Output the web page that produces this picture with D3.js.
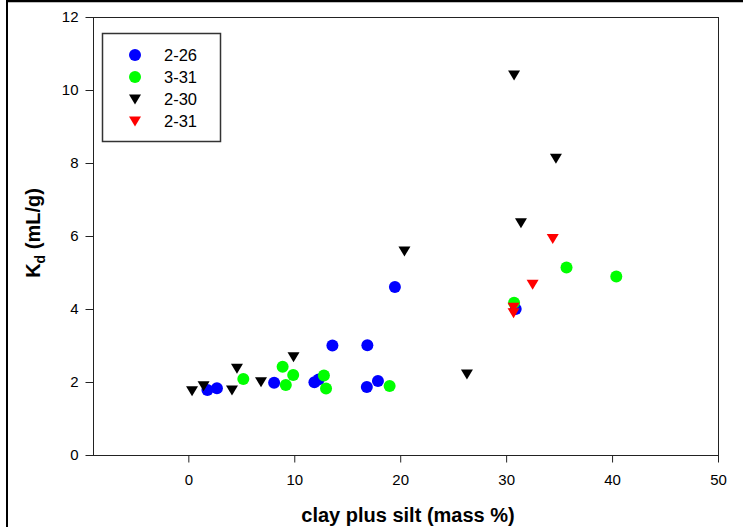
<!DOCTYPE html>
<html><head><meta charset="utf-8">
<script src="https://cdn.jsdelivr.net/npm/d3@7"></script>
<style>html,body{margin:0;padding:0;background:#fff;}svg{display:block;}</style>
</head><body>
<script>
const s226x = [1.8, 2.7, 8.1, 11.9, 12.3, 13.6, 16.9, 16.85, 17.9, 19.5, 30.9];
const s226y = [1.78, 1.83, 1.98, 1.99, 2.07, 3.0, 3.01, 1.86, 2.03, 4.6, 4.0];
const s331x = [5.19, 8.9, 9.9, 9.2, 12.8, 13.0, 19.0, 30.75, 35.7, 40.4];
const s331y = [2.08, 2.42, 2.19, 1.92, 2.18, 1.82, 1.89, 4.17, 5.14, 4.89];
const s230x = [0.35, 1.44, 4.12, 4.59, 6.86, 9.93, 20.4, 30.75, 34.7, 31.4, 26.3];
const s230y = [1.76, 1.90, 1.78, 2.38, 2.01, 2.69, 5.59, 10.41, 8.13, 6.36, 2.22];
const s231x = [34.4, 32.5, 30.7, 30.7];
const s231y = [5.93, 4.68, 4.05, 3.9];
const xTicks = [0, 10, 20, 30, 40, 50];
const yTicks = [0, 2, 4, 6, 8, 10, 12];
const seriesNames = ["2-26", "3-31", "2-30", "2-31"];
const seriesColors = ["#0000ff", "#00ff00", "#000000", "#ff0000"];
const seriesShapes = ["circle", "circle", "tri", "tri"];

const W = 743, H = 527;
const svg = d3.select("body").append("svg").attr("width", W).attr("height", H);
const font = "Arial, 'Liberation Sans', sans-serif";

// outer frame
svg.append("line").attr("x1", 7).attr("x2", W).attr("y1", 1).attr("y2", 1).attr("stroke", "#000").attr("stroke-width", 2.5);
svg.append("line").attr("x1", 7).attr("x2", 7).attr("y1", 0).attr("y2", H).attr("stroke", "#000").attr("stroke-width", 2);

const L = 93, R = 718, T = 17, B = 455;
const x = d3.scaleLinear().domain([-9, 50]).range([L, R]);
const y = d3.scaleLinear().domain([0, 12]).range([B, T]);

// frame top/right
svg.append("line").attr("x1", L).attr("x2", R).attr("y1", T + 0.5).attr("y2", T + 0.5).attr("stroke", "#222");
svg.append("line").attr("x1", R + 0.5).attr("x2", R + 0.5).attr("y1", T).attr("y2", B).attr("stroke", "#222");

const xAxis = svg.append("g").attr("transform", `translate(0,${B + 0.5})`)
  .call(d3.axisBottom(x).tickValues(xTicks).tickSize(7).tickSizeOuter(0).tickPadding(12));
const yAxis = svg.append("g").attr("transform", `translate(${L + 0.5},0)`)
  .call(d3.axisLeft(y).tickValues(yTicks).tickSize(8).tickSizeOuter(0).tickPadding(7));
[xAxis, yAxis].forEach(g => {
  g.select(".domain").attr("stroke", "#222");
  g.selectAll(".tick line").attr("stroke", "#222");
  g.selectAll("text").attr("font-family", font).attr("font-size", 15).attr("fill", "#000");
});
xAxis.select(".domain").attr("d", `M${L},0H${R + 1}`);
yAxis.select(".domain").attr("d", `M0,${B}V${T}`);

// points
const sym = (shape) => shape === "circle"
  ? d3.symbol().type(d3.symbolCircle).size(Math.PI * 36)()
  : "M-6,-4.5L6,-4.5L0,5.5Z";
const data = [[s226x, s226y], [s331x, s331y], [s230x, s230y], [s231x, s231y]];
data.forEach((d, i) => {
  const pts = d[0].map((v, k) => [v, d[1][k]]);
  svg.append("g").selectAll("path").data(pts).join("path")
    .attr("d", sym(seriesShapes[i]))
    .attr("transform", p => `translate(${x(p[0])},${y(p[1])})`)
    .attr("fill", seriesColors[i]);
});

// legend
svg.append("rect").attr("x", 102.5).attr("y", 33.5).attr("width", 118).attr("height", 108)
  .attr("fill", "#fff").attr("stroke", "#333").attr("stroke-width", 1.5);
seriesNames.forEach((n, i) => {
  const cy = 55 + i * 22;
  svg.append("path").attr("d", sym(seriesShapes[i])).attr("transform", `translate(135,${cy})`).attr("fill", seriesColors[i]);
  svg.append("text").attr("x", 164).attr("y", cy + 6).attr("font-family", font).attr("font-size", 16.5).text(n);
});

// axis titles
svg.append("text").attr("x", 408).attr("y", 522).attr("text-anchor", "middle")
  .attr("font-family", font).attr("font-size", 20).attr("font-weight", "bold").text("clay plus silt (mass %)");
const yl = svg.append("text").attr("transform", "translate(40,233) rotate(-90)").attr("text-anchor", "middle")
  .attr("font-family", font).attr("font-size", 20).attr("font-weight", "bold");
yl.append("tspan").text("K");
yl.append("tspan").attr("font-size", 14).attr("dy", 5).text("d");
yl.append("tspan").attr("dy", -5).text(" (mL/g)");
</script>
</body></html>
